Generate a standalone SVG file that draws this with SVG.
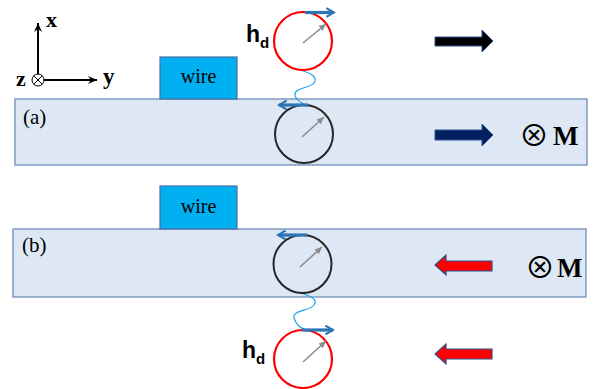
<svg xmlns="http://www.w3.org/2000/svg" width="593" height="389" viewBox="0 0 593 389">
<defs>
<style>
.layer{fill:#DEE8F5;stroke:#6F8DBA;stroke-width:1.3}
.wire{fill:#00B0F0;stroke:#4A6FA8;stroke-width:1.2}
.serif{font-family:"Liberation Serif","Times New Roman",serif;fill:#000}
.hd{font-family:"Liberation Sans",Arial,sans-serif;font-weight:bold;fill:#000}
.red{fill:none;stroke:#FF0000;stroke-width:2.2}
.blk{fill:none;stroke:#262626;stroke-width:2}
.spin{stroke:#2E75B6;stroke-width:3.2;fill:none}
.gray{stroke:#8C8C8C;stroke-width:1.6;fill:none}
.wave{stroke:#1AA7EC;stroke-width:1.2;fill:none}
.axis{stroke:#000;stroke-width:2;fill:none}
.bold{font-weight:bold}
.otimes{font-family:"Noto Sans CJK JP","DejaVu Sans",sans-serif;fill:#000}
</style>
<marker id="ah" viewBox="0 0 10 10" refX="8" refY="5" markerWidth="3.4" markerHeight="3.4" orient="auto"><path d="M1,1 L8,5 L1,9" fill="none" stroke="#2E75B6" stroke-width="2"/></marker>
<marker id="gh" viewBox="0 0 10 10" refX="9" refY="5" markerWidth="5" markerHeight="5" orient="auto"><path d="M0,1 L9,5 L0,9 z" fill="#8C8C8C"/></marker>
<marker id="xh" viewBox="0 0 10 10" refX="9" refY="5" markerWidth="5" markerHeight="5" orient="auto"><path d="M0,1 L9,5 L0,9 L3,5 z" fill="#000"/></marker>
</defs>

<g id="axes">
<line class="axis" x1="38" y1="80" x2="38" y2="23" marker-end="url(#xh)"/>
<line class="axis" x1="38" y1="80" x2="97" y2="80" marker-end="url(#xh)"/>
<circle cx="38" cy="80" r="6" fill="#fff" stroke="#000" stroke-width="1"/>
<line x1="33.8" y1="75.8" x2="42.2" y2="84.2" stroke="#000" stroke-width="1"/>
<line x1="42.2" y1="75.8" x2="33.8" y2="84.2" stroke="#000" stroke-width="1"/>
<text class="serif bold" x="46" y="27" font-size="22">x</text>
<text class="serif bold" x="103" y="84" font-size="23">y</text>
<text class="serif bold" x="16" y="86" font-size="22">z</text>
</g>

<g id="layer-a">
<rect class="layer" x="15" y="99" width="572" height="66"/>
<text class="serif" x="23" y="124" font-size="21">(a)</text>
</g>
<g id="wire-a">
<rect class="wire" x="160" y="57" width="77" height="42"/>
<text class="serif" x="198.5" y="83" font-size="20" text-anchor="middle">wire</text>
</g>

<g id="layer-b">
<rect class="layer" x="13" y="229" width="573" height="68"/>
<text class="serif" x="22" y="252" font-size="21">(b)</text>
</g>
<g id="wire-b">
<rect class="wire" x="160" y="186" width="77" height="43"/>
<text class="serif" x="198.5" y="213" font-size="20" text-anchor="middle">wire</text>
</g>

<g id="connectors">
<path class="wave" d="M300,70 C312,73 318,78 314,83 C310,88 294,88 295,95 C296,101 302,103 306,105"/>
<path class="wave" d="M300,293 C312,296 318,300 314,305 C310,311 292,310 294,318 C296,325 300,328 306,330"/>
</g>

<g id="spin-a-top">
<circle class="red" cx="303" cy="41" r="29"/>
<line class="gray" x1="303" y1="43" x2="326" y2="24" marker-end="url(#gh)"/>
<line class="spin" x1="305" y1="12.5" x2="334" y2="12.5" marker-end="url(#ah)"/>
<text class="hd" x="246" y="42" font-size="23">h<tspan font-size="15" dy="6">d</tspan></text>
</g>

<g id="spin-a-bottom">
<circle class="blk" cx="304" cy="134" r="29"/>
<line class="gray" x1="302" y1="137" x2="324" y2="117" marker-end="url(#gh)"/>
<line class="spin" x1="308" y1="105" x2="279" y2="105" marker-end="url(#ah)"/>
</g>

<g id="spin-b-top">
<circle class="blk" cx="302.5" cy="264" r="29"/>
<line class="gray" x1="300" y1="267" x2="322" y2="247" marker-end="url(#gh)"/>
<line class="spin" x1="307" y1="235" x2="278" y2="235" marker-end="url(#ah)"/>
</g>

<g id="spin-b-bottom">
<circle class="red" cx="303" cy="359" r="29"/>
<line class="gray" x1="303" y1="362" x2="326" y2="341" marker-end="url(#gh)"/>
<line class="spin" x1="302" y1="330" x2="333" y2="330" marker-end="url(#ah)"/>
<text class="hd" x="242" y="358" font-size="23">h<tspan font-size="15" dy="6">d</tspan></text>
</g>

<g id="arrow-a-top">
<path d="M435,37 L482,37 L482,30 L493,41 L482,52 L482,46 L435,46 z" fill="#000" stroke="#2F4F8F" stroke-width="1"/>
</g>
<g id="arrow-a-layer">
<path d="M435,130 L482,130 L482,124 L493,135 L482,146 L482,140 L435,140 z" fill="#002060" stroke="#2F528F" stroke-width="1"/>
</g>
<g id="arrow-b-layer">
<path d="M492,261 L446,261 L446,255 L435,265 L446,275 L446,271 L492,271 z" fill="#FF0000" stroke="#2F528F" stroke-width="1.2"/>
</g>
<g id="arrow-b-bottom">
<path d="M492,349 L446,349 L446,344 L435,354 L446,364 L446,359 L492,359 z" fill="#FF0000" stroke="#2F528F" stroke-width="1.2"/>
</g>

<g id="m-a">
<text class="otimes" x="534" y="146" font-size="30" text-anchor="middle">⊗</text>
<text class="serif bold" x="553" y="145" font-size="27">M</text>
</g>
<g id="m-b">
<text class="otimes" x="540" y="278" font-size="30" text-anchor="middle">⊗</text>
<text class="serif bold" x="557" y="277" font-size="27">M</text>
</g>
</svg>
